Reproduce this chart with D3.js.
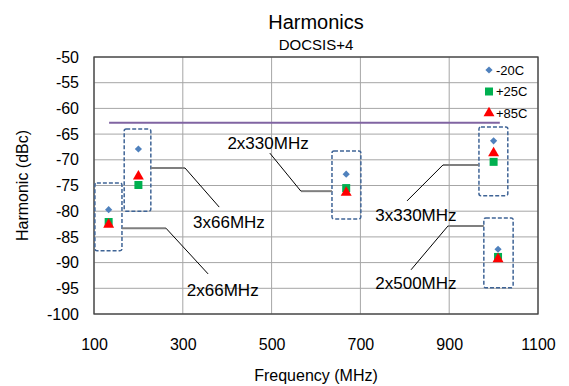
<!DOCTYPE html>
<html>
<head>
<meta charset="utf-8">
<script src="https://cdn.jsdelivr.net/npm/d3@7"></script>
<style>
  body { margin: 0; background: #fff; }
  text { font-family: "Liberation Sans", Arial, sans-serif; fill: #000; }
</style>
</head>
<body>
<div id="chart"></div>
<script>
// Data
var freqs = [133, 200, 668, 1000, 1010];
var minus20 = [-79.7, -67.9, -72.8, -66.3, -87.4];
var plus25 = [-82.1, -74.9, -75.5, -70.4, -88.9];
var plus85 = [-82.6, -73.2, -76.4, -68.7, -89.3];
var seriesNames = ['-20C', '+25C', '+85C'];
var limitX = [134, 1014];
var limitY = -62.8;
var xTicks = [100, 300, 500, 700, 900, 1100];
var yTicks = [-100, -95, -90, -85, -80, -75, -70, -65, -60, -55, -50];

// annotation boxes [x0, x1, y0, y1] in MHz / dBc
var boxes = [
    [102, 163, -74.5, -87.7],
    [168, 228, -64, -80],
    [636, 701, -68.3, -81.5],
    [967, 1032, -63.6, -77],
    [978, 1044, -81.3, -94.9]
];
// callouts: label, label position, elbow points (box end, corner, tip)
var callouts = [
    {label: '3x66MHz', at: [404, -82.1], pts: [[228, -71.6], [305, -71.6], [382, -79.2]]},
    {label: '2x66MHz', at: [390, -95.3], pts: [[163, -83.3], [262, -83.3], [357, -92.2]]},
    {label: '2x330MHz', at: [492, -66.7], pts: [[636, -76.1], [566, -76.1], [496, -68.7]]},
    {label: '3x330MHz', at: [825, -80.7], pts: [[967, -71], [886, -71], [805, -78]]},
    {label: '2x500MHz', at: [825, -94], pts: [[978, -82.9], [897, -82.9], [814, -91.4]]}
];

var svgWidth = 569, svgHeight = 386;
var margin = {top: 57, right: 31, bottom: 72, left: 94};
var chartWidth = svgWidth - margin.left - margin.right;
var chartHeight = svgHeight - margin.top - margin.bottom;

var svg = d3.select('#chart').append('svg')
    .attr('width', svgWidth)
    .attr('height', svgHeight);

var chartGroup = svg.append('g')
    .attr('transform', `translate(${margin.left}, ${margin.top})`);

var x = d3.scaleLinear().domain([100, 1100]).range([0, chartWidth]);
var y = d3.scaleLinear().domain([-100, -50]).range([chartHeight, 0]);

// Gridlines
chartGroup.selectAll('.vgrid').data(xTicks).enter().append('line')
    .attr('x1', d => x(d)).attr('x2', d => x(d))
    .attr('y1', 0).attr('y2', chartHeight)
    .attr('stroke', '#a6a6a6').attr('stroke-width', 1);
chartGroup.selectAll('.hgrid').data(yTicks).enter().append('line')
    .attr('x1', 0).attr('x2', chartWidth)
    .attr('y1', d => y(d)).attr('y2', d => y(d))
    .attr('stroke', '#a6a6a6').attr('stroke-width', 1);

// Plot border
chartGroup.append('rect')
    .attr('width', chartWidth).attr('height', chartHeight)
    .attr('fill', 'none').attr('stroke', '#404040').attr('stroke-width', 1.3);

// Axes (plain hyphen minus, no thousands comma)
var xAxis = d3.axisBottom(x).tickValues(xTicks).tickSize(0).tickPadding(25).tickFormat(d => String(d));
var yAxis = d3.axisLeft(y).tickValues(yTicks).tickSize(0).tickPadding(15).tickFormat(d => String(d));
var gx = chartGroup.append('g').attr('transform', `translate(0, ${chartHeight})`).call(xAxis);
var gy = chartGroup.append('g').call(yAxis);
[gx, gy].forEach(function (g) {
    g.select('.domain').remove();
    g.selectAll('text').style('font-family', '"Liberation Sans", Arial, sans-serif')
        .style('font-size', '16px').attr('fill', '#000');
});

// Limit line
chartGroup.append('line')
    .attr('x1', x(limitX[0])).attr('x2', x(limitX[1]))
    .attr('y1', y(limitY)).attr('y2', y(limitY))
    .attr('stroke', '#8064a2').attr('stroke-width', 2);

// Dashed boxes
chartGroup.selectAll('.box').data(boxes).enter().append('rect')
    .attr('x', d => x(d[0])).attr('y', d => y(d[2]))
    .attr('width', d => x(d[1]) - x(d[0]))
    .attr('height', d => y(d[3]) - y(d[2]))
    .attr('rx', 2)
    .attr('fill', 'none').attr('stroke', '#3f6496')
    .attr('stroke-width', 1.5).attr('stroke-dasharray', '4,2');

// Callouts
callouts.forEach(function (c) {
    chartGroup.append('line')
        .attr('x1', x(c.pts[0][0])).attr('y1', y(c.pts[0][1]))
        .attr('x2', x(c.pts[1][0])).attr('y2', y(c.pts[1][1]))
        .attr('stroke', '#7f7f7f').attr('stroke-width', 2);
    chartGroup.append('line')
        .attr('x1', x(c.pts[1][0])).attr('y1', y(c.pts[1][1]))
        .attr('x2', x(c.pts[2][0])).attr('y2', y(c.pts[2][1]))
        .attr('stroke', '#000').attr('stroke-width', 1);
    chartGroup.append('text')
        .attr('x', x(c.at[0])).attr('y', y(c.at[1]))
        .attr('text-anchor', 'middle').attr('dy', '0.35em')
        .style('font-size', '17px')
        .text(c.label);
});

// Markers: diamond is a square turned 45 degrees
var symbols = [
    {values: minus20, type: d3.symbolSquare, size: 26, rot: 45, color: '#4f81bd'},
    {values: plus25, type: d3.symbolSquare, size: 64, rot: 0, color: '#00b050'},
    {values: plus85, type: d3.symbolTriangle, size: 52, rot: 0, color: '#ff0000'}
];
symbols.forEach(function (s) {
    chartGroup.selectAll(null).data(freqs).enter().append('path')
        .attr('d', d3.symbol().type(s.type).size(s.size))
        .attr('transform', (d, i) => `translate(${x(d)}, ${y(s.values[i])}) rotate(${s.rot})`)
        .attr('fill', s.color);
});

// Legend
var legend = chartGroup.append('g').attr('transform', `translate(${chartWidth - 49}, 13)`);
symbols.forEach(function (s, i) {
    legend.append('path')
        .attr('d', d3.symbol().type(s.type).size(s.size))
        .attr('transform', `translate(0, ${i * 21.5}) rotate(${s.rot})`)
        .attr('fill', s.color);
    legend.append('text')
        .attr('x', 7).attr('y', i * 21.5).attr('dy', '0.35em')
        .style('font-size', '13px')
        .text(seriesNames[i]);
});

// Titles
svg.append('text')
    .attr('x', margin.left + chartWidth / 2).attr('y', 29)
    .attr('text-anchor', 'middle').style('font-size', '20px')
    .text('Harmonics');
svg.append('text')
    .attr('x', margin.left + chartWidth / 2).attr('y', 50)
    .attr('text-anchor', 'middle').style('font-size', '15px')
    .text('DOCSIS+4');
svg.append('text')
    .attr('x', margin.left + chartWidth / 2).attr('y', 381)
    .attr('text-anchor', 'middle').style('font-size', '16px')
    .text('Frequency (MHz)');
svg.append('text')
    .attr('transform', 'rotate(-90)')
    .attr('x', -(margin.top + chartHeight / 2)).attr('y', 28)
    .attr('text-anchor', 'middle').style('font-size', '16px')
    .text('Harmonic (dBc)');
</script>
</body>
</html>
